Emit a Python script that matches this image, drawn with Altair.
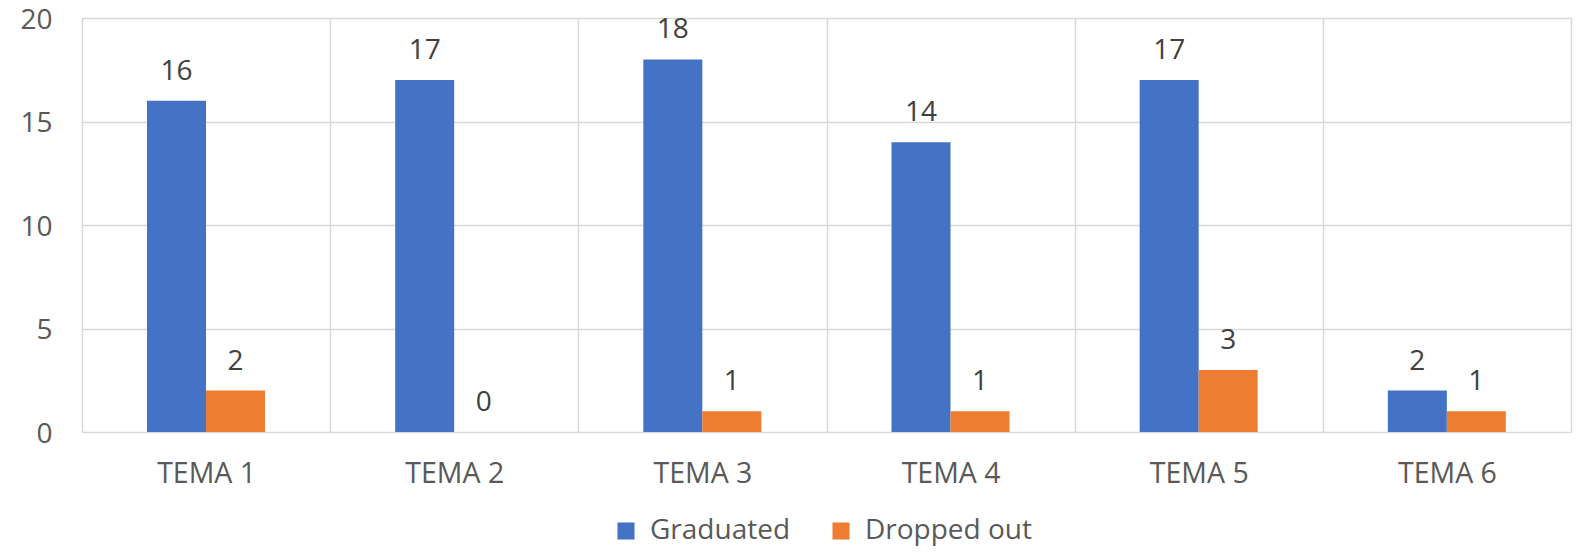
import altair as alt
import pandas as pd

categories = ["TEMA 1", "TEMA 2", "TEMA 3", "TEMA 4", "TEMA 5", "TEMA 6"]
series = ["Graduated", "Dropped out"]
graduated = [16, 17, 18, 14, 17, 2]
dropped = [2, 0, 1, 1, 3, 1]
colors = ["#4472C4", "#ED7D31"]

rows = []
for c, g, d in zip(categories, graduated, dropped):
    rows.append({"tema": c, "series": series[0], "value": g})
    rows.append({"tema": c, "series": series[1], "value": d})
df = pd.DataFrame(rows)

FONT = "Open Sans"
TXT = "#595959"
GRID = "#D9D9D9"

base = alt.Chart(df).encode(
    x=alt.X(
        "tema:N",
        sort=categories,
        title=None,
        scale=alt.Scale(paddingInner=0, paddingOuter=0),
        axis=alt.Axis(
            labelAngle=0, ticks=False, domain=False, grid=True, tickBand="extent",
            gridColor=GRID, gridWidth=1.5, labelFont=FONT, labelFontSize=28.5,
            labelColor=TXT, labelPadding=27,
        ),
    ),
    xOffset=alt.XOffset("series:N", sort=series,
                        scale=alt.Scale(range=[65, 183], paddingInner=0, paddingOuter=0)),
    y=alt.Y(
        "value:Q",
        title=None,
        scale=alt.Scale(domain=[0, 20], nice=False),
        axis=alt.Axis(
            values=[0, 5, 10, 15, 20], ticks=False, domain=False, grid=True,
            gridColor=GRID, gridWidth=1.5, labelFont=FONT, labelFontSize=28,
            labelColor=TXT, labelPadding=30, labelOffset=2,
        ),
    ),
)

bars = base.mark_bar().encode(
    color=alt.Color(
        "series:N",
        sort=series,
        scale=alt.Scale(domain=series, range=colors),
        legend=alt.Legend(
            title=None, orient="none", direction="horizontal",
            legendX=530, legendY=499, padding=0,
            symbolType="square", symbolSize=290, symbolStrokeWidth=0,
            labelFont=FONT, labelFontSize=28, labelColor=TXT, labelLimit=0,
            labelOffset=10, columnPadding=36,
        ),
    )
)

labels = base.mark_text(
    dy=-21, baseline="alphabetic", font=FONT, fontSize=28, color="#404040"
).encode(text="value:Q")

chart = (
    alt.layer(bars, labels)
    .properties(
        width=1489,
        height=414,
        autosize=alt.AutoSizeParams(type="none"),
        padding={"left": 74, "top": 10, "right": 2, "bottom": 114},
    )
    .configure_view(stroke=GRID, strokeWidth=1.5)
    .configure(background="white")
)

chart.save("out.html", embed_options={"renderer": "svg", "actions": False})
